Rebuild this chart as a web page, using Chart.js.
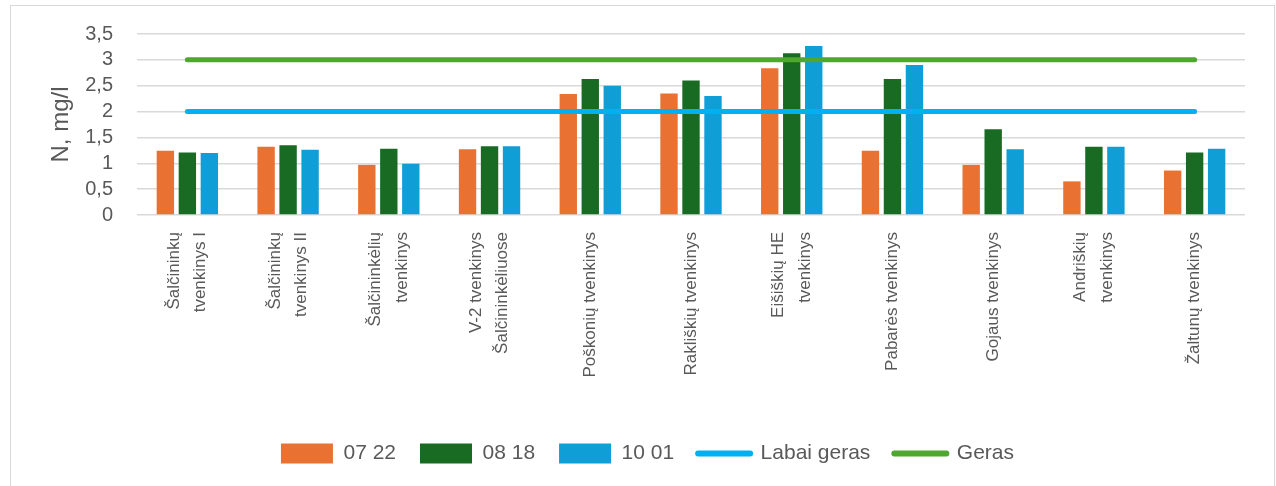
<!DOCTYPE html>
<html>
<head>
<meta charset="utf-8">
<script src="https://cdn.jsdelivr.net/npm/chart.js@4.4.1/dist/chart.umd.min.js"></script>
<style>
  html, body { margin: 0; padding: 0; background: #ffffff; overflow: hidden; }
  #wrap { position: relative; width: 1276px; height: 486px; }
  #frame { position: absolute; left: 10px; top: 5px; width: 1265px; height: 500px;
           border: 1.5px solid #d9d9d9; box-sizing: border-box; }
  canvas { position: absolute; left: 0; top: 0; }
</style>
</head>
<body>
<div id="wrap">
  <div id="frame"></div>
  <canvas id="chart" width="1276" height="486"></canvas>
</div>
<script>
// Ponds (categories); multi-line names are wrapped as arrays
const categories = [
  ['Šalčininkų', 'tvenkinys I'],
  ['Šalčininkų', 'tvenkinys II'],
  ['Šalčininkėlių', 'tvenkinys'],
  ['V-2 tvenkinys', 'Šalčininkėliuose'],
  'Poškonių tvenkinys',
  'Rakliškių tvenkinys',
  ['Eišiškių HE', 'tvenkinys'],
  'Pabarės tvenkinys',
  'Gojaus tvenkinys',
  ['Andriškių', 'tvenkinys'],
  'Žaltunų tvenkinys'
];

// Total nitrogen, mg/l, by sampling date
const n0722 = [1.24, 1.32, 0.97, 1.27, 2.34, 2.35, 2.84, 1.24, 0.97, 0.65, 0.86];
const n0818 = [1.21, 1.35, 1.28, 1.33, 2.63, 2.60, 3.13, 2.63, 1.66, 1.32, 1.21];
const n1001 = [1.20, 1.26, 0.99, 1.33, 2.50, 2.30, 3.27, 2.90, 1.27, 1.32, 1.28];

// Water quality class limits
const labaiGeras = [2, 2, 2, 2, 2, 2, 2, 2, 2, 2, 2];
const geras = [3, 3, 3, 3, 3, 3, 3, 3, 3, 3, 3];

const seriesNames = ['07 22', '08 18', '10 01', 'Labai geras', 'Geras'];
const yTickLabels = ['0', '0,5', '1', '1,5', '2', '2,5', '3', '3,5'];
const yTitle = 'N, mg/l';

const textColor = '#595959';
const baseFont = "'Liberation Sans', Arial, sans-serif";

// Rotated category names: two-line names straddle the tick,
// one-line names sit on it (a blank leading line balances the offset)
const LABEL_LINE = 26.4;

// Nudges the centred legend row sideways
const legendShift = {
  id: 'legendShift',
  afterUpdate(chart) {
    const l = chart.legend;
    if (l) { l.left += 20; l.right += 20; }
  }
};

const barStyle = {
  type: 'bar',
  order: 1,
  borderWidth: 0,
  categoryPercentage: 0.655,
  barPercentage: 0.79
};
const lineStyle = {
  type: 'line',
  order: 0,
  borderWidth: 5,
  borderCapStyle: 'round',
  pointRadius: 0,
  pointHoverRadius: 0,
  fill: false,
  tension: 0
};

new Chart(document.getElementById('chart'), {
  data: {
    labels: categories,
    datasets: [
      { ...barStyle, label: seriesNames[0], data: n0722, backgroundColor: '#E97132' },
      { ...barStyle, label: seriesNames[1], data: n0818, backgroundColor: '#196B24' },
      { ...barStyle, label: seriesNames[2], data: n1001, backgroundColor: '#0F9ED5' },
      { ...lineStyle, label: seriesNames[3], data: labaiGeras, borderColor: '#00B0F0', backgroundColor: '#00B0F0' },
      { ...lineStyle, label: seriesNames[4], data: geras, borderColor: '#4EA72E', backgroundColor: '#4EA72E' }
    ]
  },
  options: {
    responsive: false,
    animation: false,
    devicePixelRatio: 1,
    layout: { padding: { left: 10, right: 31, top: 34, bottom: 12 } },
    plugins: {
      tooltip: { enabled: false },
      legend: {
        position: 'bottom',
        align: 'center',
        labels: {
          color: textColor,
          font: { family: baseFont, size: 21 },
          usePointStyle: true,
          pointStyleWidth: 52,
          boxHeight: 20,
          padding: 24,
          sort: (a, b) => a.datasetIndex - b.datasetIndex,
          generateLabels(chart) {
            const items = Chart.defaults.plugins.legend.labels.generateLabels(chart);
            items.forEach(it => {
              const ds = chart.data.datasets[it.datasetIndex];
              if (ds.type === 'line') {
                it.pointStyle = 'line';
                it.lineWidth = 6;
                it.lineCap = 'round';
                it.strokeStyle = ds.borderColor;
              } else {
                it.pointStyle = 'rect';
                it.lineWidth = 0;
                it.fillStyle = ds.backgroundColor;
              }
            });
            return items;
          }
        }
      }
    },
    scales: {
      x: {
        grid: { display: false, drawTicks: false },
        border: { display: false },
        afterFit(scale) { scale.height = 204; },
        ticks: {
          autoSkip: false,
          minRotation: 90,
          maxRotation: 90,
          padding: 17,
          labelOffset: -LABEL_LINE / 2,
          color: textColor,
          callback(value, index) {
            const c = categories[index];
            return Array.isArray(c) ? c : ['', c];
          },
          font: (ctx) => ({
            family: baseFont,
            size: 17,
            lineHeight: (Array.isArray(categories[ctx.index]) ? LABEL_LINE : LABEL_LINE / 2) + 'px'
          })
        }
      },
      y: {
        min: 0,
        max: 3.5,
        afterFit(scale) { scale.width = 127; },
        grid: { color: '#d9d9d9', lineWidth: 1.5, drawTicks: false },
        border: { display: false },
        ticks: {
          stepSize: 0.5,
          autoSkip: false,
          maxTicksLimit: 20,
          padding: 24,
          color: textColor,
          font: { family: baseFont, size: 20, lineHeight: 1 },
          callback: (v) => yTickLabels[Math.round(v * 2)]
        },
        title: {
          display: true,
          text: yTitle,
          color: textColor,
          font: { family: baseFont, size: 24 },
          padding: { top: 37, bottom: 0 }
        }
      }
    }
  },
  plugins: [legendShift]
});
</script>
</body>
</html>
